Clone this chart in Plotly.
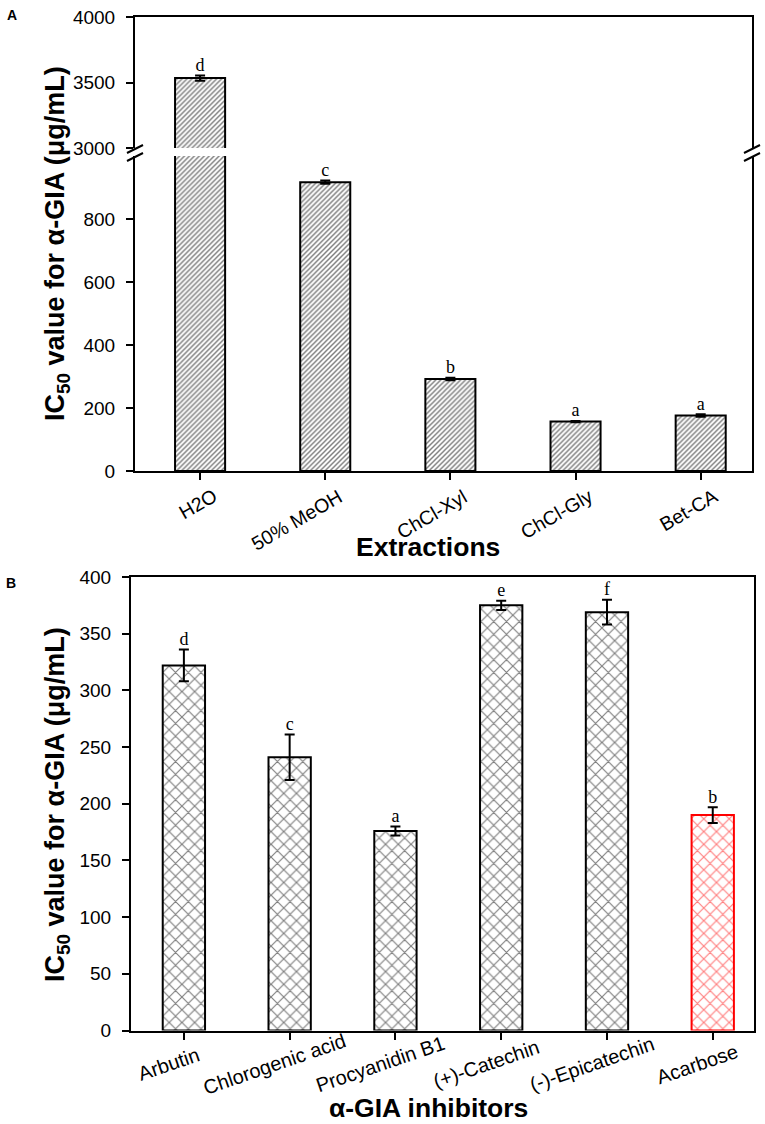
import plotly.graph_objects as go

# panel A - IC50 of the extracts
extractions = ["H2O", "50% MeOH", "ChCl-Xyl", "ChCl-Gly", "Bet-CA"]
ic50_ext = [3534, 917, 292, 157, 176]
err_ext = [20, 5, 4, 2, 4]
letters_ext = ["d", "c", "b", "a", "a"]

# panel B - IC50 of the pure compounds
inhibitors = ["Arbutin", "Chlorogenic acid", "Procyanidin B1", "(+)-Catechin",
              "(-)-Epicatechin", "Acarbose"]
ic50_inh = [322, 241, 176, 375, 369, 190]
err_inh = [14, 20, 4, 4, 11, 7]
letters_inh = ["d", "c", "a", "e", "f", "b"]

lower_ticks = [0, 200, 400, 600, 800]
upper_ticks = [3000, 3500, 4000]
inh_ticks = [0, 50, 100, 150, 200, 250, 300, 350, 400]

W, H = 765, 1124
FONT = "Liberation Sans, Arial, sans-serif"
SERIF = "Liberation Serif, Times New Roman, serif"


def px_x(v):
    return v / W


def px_y(v):
    return 1 - v / H


fig = go.Figure()

# panel A bars, drawn on both halves of the broken axis
for xa, ya in [("x", "y"), ("x2", "y2")]:
    fig.add_trace(go.Bar(
        x=extractions, y=ic50_ext, xaxis=xa, yaxis=ya, width=0.4,
        marker=dict(color="white", line=dict(color="black", width=2),
                    pattern=dict(shape="/", fgcolor="black", bgcolor="white",
                                 size=3.5, solidity=0.42)),
        error_y=dict(type="data", array=err_ext, color="black", thickness=2, width=5),
        showlegend=False))

# letters: the tall bar goes on the upper half
low_x, low_y, low_t, up_x, up_y, up_t = [], [], [], [], [], []
for name, v, e, t in zip(extractions, ic50_ext, err_ext, letters_ext):
    if v > 1000:
        up_x.append(name); up_y.append(v + e); up_t.append(t)
    else:
        low_x.append(name); low_y.append(v + e); low_t.append(t)

fig.add_trace(go.Scatter(x=low_x, y=low_y, text=low_t, mode="text", xaxis="x", yaxis="y",
                         textposition="top center", textfont=dict(family=SERIF, size=18, color="black"),
                         showlegend=False))
fig.add_trace(go.Scatter(x=up_x, y=up_y, text=up_t, mode="text", xaxis="x2", yaxis="y2",
                         textposition="top center", textfont=dict(family=SERIF, size=18, color="black"),
                         showlegend=False))

# panel B
edge = ["red" if n == "Acarbose" else "black" for n in inhibitors]
fig.add_trace(go.Bar(
    x=inhibitors, y=ic50_inh, xaxis="x3", yaxis="y3", width=0.4,
    marker=dict(color="white", line=dict(color=edge, width=2),
                pattern=dict(shape="x", fgcolor=edge, bgcolor="white", size=9, solidity=0.24)),
    error_y=dict(type="data", array=err_inh, color="black", thickness=2, width=5),
    showlegend=False))
fig.add_trace(go.Scatter(x=inhibitors, y=[v + e for v, e in zip(ic50_inh, err_inh)],
                         text=letters_inh, mode="text", xaxis="x3", yaxis="y3",
                         textposition="top center", textfont=dict(family=SERIF, size=18, color="black"),
                         showlegend=False))

ax = dict(showline=True, linewidth=2, linecolor="black", showgrid=False, zeroline=False,
          ticks="outside", ticklen=7, tickwidth=2, tickcolor="black", ticklabelstandoff=7,
          tickfont=dict(family=FONT, size=19, color="black"), automargin=False)

fig.update_layout(
    width=W, height=H, autosize=False,
    margin=dict(l=0, r=0, t=0, b=0),
    paper_bgcolor="white", plot_bgcolor="white",
    font=dict(family=FONT, color="black"),
    xaxis=dict(ax, domain=[px_x(135), px_x(752)], anchor="y", range=[-0.52, 4.41],
               showticklabels=False),
    yaxis=dict(ax, domain=[px_y(471), px_y(156)], anchor="x", range=[0, 1000],
               tickvals=lower_ticks, mirror=True),
    xaxis2=dict(ax, domain=[px_x(135), px_x(752)], anchor="y2", matches="x", side="top",
                showticklabels=False, ticks=""),
    yaxis2=dict(ax, domain=[px_y(148), px_y(17)], anchor="x2", range=[3000, 4000],
                tickvals=upper_ticks, mirror=True),
    xaxis3=dict(ax, domain=[px_x(131), px_x(754)], anchor="y3", range=[-0.5, 5.39],
                showticklabels=False, mirror=True),
    yaxis3=dict(ax, domain=[px_y(1030.5), px_y(577)], anchor="x3", range=[0, 400],
                tickvals=inh_ticks, mirror=True),
)

# slanted category labels (placed like the original's rotated labels)
for name in extractions:
    fig.add_annotation(text=name, x=name, xref="x", y=px_y(482), yref="paper",
                       xanchor="right", yanchor="top", xshift=23, textangle=-30,
                       showarrow=False, font=dict(family=FONT, size=19.5, color="black"))
for name in inhibitors:
    fig.add_annotation(text=name, x=name, xref="x3", y=px_y(1064), yref="paper",
                       xanchor="center", yanchor="middle", xshift=-15, textangle=-19,
                       showarrow=False, font=dict(family=FONT, size=20, color="black"))

ytitle = "IC<sub>50</sub> value for α-GIA (μg/mL)"
notes = [
    dict(text="<b>A</b>", x=px_x(12), y=px_y(15), size=14, angle=0),
    dict(text="<b>B</b>", x=px_x(11), y=px_y(583), size=14, angle=0),
    dict(text="<b>" + ytitle + "</b>", x=px_x(57), y=px_y(244), size=27, angle=-90),
    dict(text="<b>" + ytitle + "</b>", x=px_x(57), y=px_y(805), size=27, angle=-90),
    dict(text="<b>Extractions</b>", x=px_x(428), y=px_y(547), size=26.5, angle=0),
    dict(text="<b>α-GIA inhibitors</b>", x=px_x(428), y=px_y(1108), size=26.5, angle=0),
]
for n in notes:
    fig.add_annotation(text=n["text"], x=n["x"], y=n["y"], xref="paper", yref="paper",
                       xanchor="center", yanchor="middle", textangle=n["angle"], showarrow=False,
                       font=dict(family=FONT, size=n["size"], color="black"))

# axis break marks on the left and right spines
for sx in [135, 752]:
    for sy in [149, 157]:
        fig.add_shape(type="line", xref="paper", yref="paper",
                      x0=px_x(sx - 8), y0=px_y(sy + 4), x1=px_x(sx + 8), y1=px_y(sy - 4),
                      line=dict(color="black", width=2))

fig.write_html("out.html", config=dict(displayModeBar=False),
               post_script="document.body.style.margin='0';")
